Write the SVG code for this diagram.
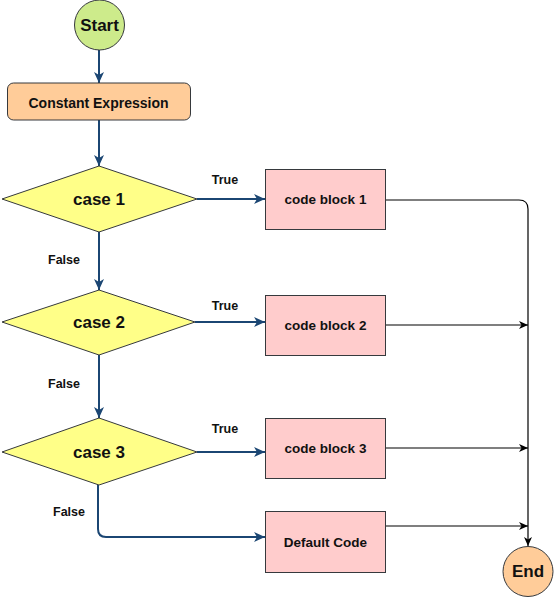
<svg xmlns="http://www.w3.org/2000/svg" width="554" height="597" viewBox="0 0 554 597">
<style>
text{font-family:"Liberation Sans",Arial,sans-serif;font-weight:bold;fill:#111;text-anchor:middle;dominant-baseline:central}
.big{font-size:17px}
.mid{font-size:13.5px}
.lbl{font-size:12.5px}
.sm{font-size:14px}
.blue{fill:none;stroke:#1b4673;stroke-width:2}
.blk{fill:none;stroke:#000;stroke-width:1.2}
.node{stroke:#36393d;stroke-width:1}
</style>
<defs>
<marker id="ab" markerUnits="userSpaceOnUse" markerWidth="12" markerHeight="10" refX="11" refY="5" orient="auto">
<path d="M0,0 L11,5 L0,10 L3,5 Z" fill="#1b4673"/>
</marker>
<marker id="ak" markerUnits="userSpaceOnUse" markerWidth="10" markerHeight="8" refX="9" refY="4" orient="auto">
<path d="M0,0 L9,4 L0,8 L2.5,4 Z" fill="#000"/>
</marker>
</defs>
<rect width="554" height="597" fill="#fff"/>
<g id="connectors">
<path class="blue" d="M99,50 V83" marker-end="url(#ab)"/>
<path class="blue" d="M99,120 V166" marker-end="url(#ab)"/>
<path class="blue" d="M99,232 V290" marker-end="url(#ab)"/>
<path class="blue" d="M99,355 V418" marker-end="url(#ab)"/>
<path class="blue" d="M98,485 V529 Q98,537 106,537 H265" marker-end="url(#ab)"/>
<path class="blue" d="M197,199 H265" marker-end="url(#ab)"/>
<path class="blue" d="M195,322 H265" marker-end="url(#ab)"/>
<path class="blue" d="M197,452 H265" marker-end="url(#ab)"/>
<path class="blk" d="M385,200 H519 Q528,200 528,209 V546" marker-end="url(#ak)"/>
<path class="blk" d="M385,325 H528" marker-end="url(#ak)"/>
<path class="blk" d="M386,448 H528" marker-end="url(#ak)"/>
<path class="blk" d="M386,526 H528" marker-end="url(#ak)"/>
<text class="lbl" x="225" y="180">True</text>
<text class="lbl" x="225" y="306">True</text>
<text class="lbl" x="225" y="429">True</text>
<text class="lbl" x="64" y="260">False</text>
<text class="lbl" x="64" y="384">False</text>
<text class="lbl" x="69" y="512">False</text>
</g>
<g id="start">
<circle class="node" cx="99.5" cy="25" r="25" fill="#cdeb8b"/>
<text class="big" x="99.5" y="25">Start</text>
</g>
<g id="constant-expression">
<rect class="node" x="7.5" y="83" width="183" height="37" rx="6" fill="#ffcc99"/>
<text class="sm" x="98.5" y="102.5">Constant Expression</text>
</g>
<g id="case1">
<polygon class="node" points="2,199 99,166 197,199 99,232" fill="#ffff88"/>
<text class="big" x="99" y="199">case 1</text>
</g>
<g id="case2">
<polygon class="node" points="2,322 99,290 195,322 99,355" fill="#ffff88"/>
<text class="big" x="99" y="322">case 2</text>
</g>
<g id="case3">
<polygon class="node" points="2,452 99,418 197,452 99,485" fill="#ffff88"/>
<text class="big" x="99" y="452">case 3</text>
</g>
<g id="code-block-1">
<rect class="node" x="265.5" y="169.5" width="120" height="60" fill="#ffcccc"/>
<text class="mid" x="325.5" y="199.5">code block 1</text>
</g>
<g id="code-block-2">
<rect class="node" x="265.5" y="295.5" width="120" height="60" fill="#ffcccc"/>
<text class="mid" x="325.5" y="325.5">code block 2</text>
</g>
<g id="code-block-3">
<rect class="node" x="265.5" y="418.5" width="120" height="60" fill="#ffcccc"/>
<text class="mid" x="325.5" y="448.5">code block 3</text>
</g>
<g id="default-code">
<rect class="node" x="265.5" y="511.5" width="120" height="61" fill="#ffcccc"/>
<text class="mid" x="325.5" y="542">Default Code</text>
</g>
<g id="end">
<circle class="node" cx="528" cy="571.5" r="25" fill="#ffcc99"/>
<text class="big" x="528" y="571.5">End</text>
</g>
</svg>
